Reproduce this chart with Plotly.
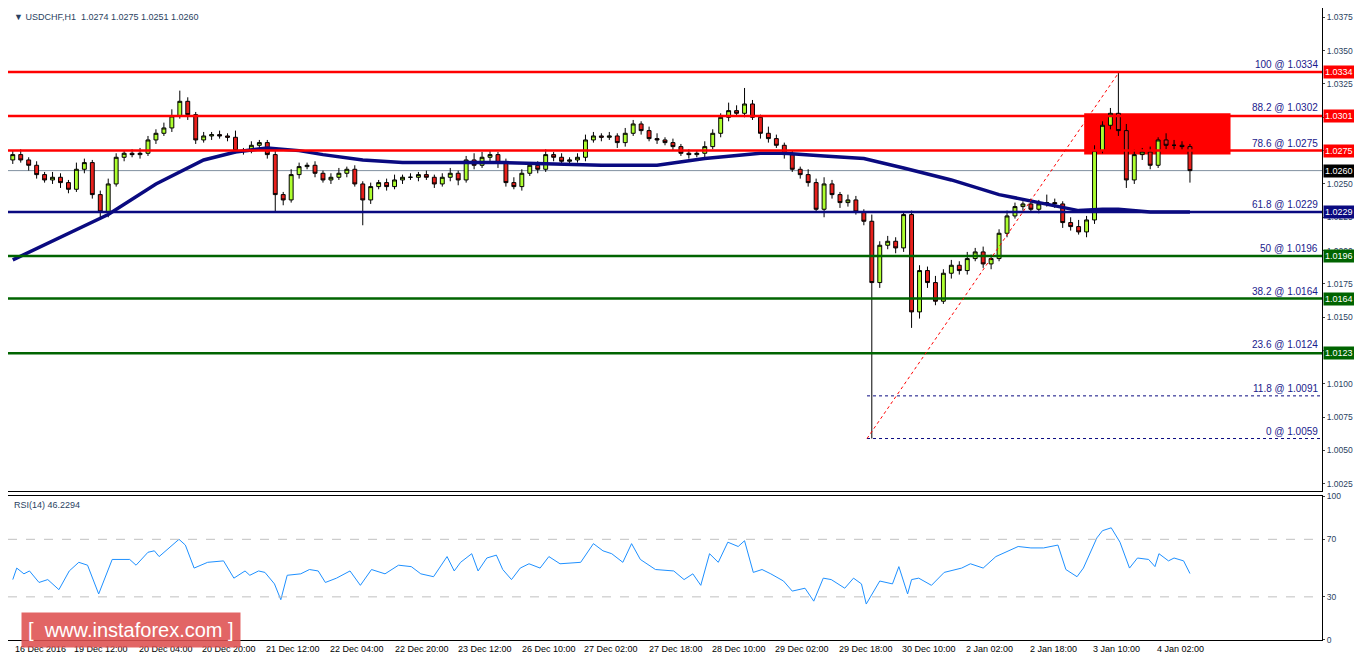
import plotly.graph_objects as go

# H2-ish candles (open = previous close)
closes = [1.0272, 1.0268, 1.0264, 1.0257, 1.0253, 1.0255, 1.0251, 1.0246, 1.0261, 1.0266,
          1.0242, 1.0229, 1.0250, 1.0270, 1.0273, 1.0272, 1.0273, 1.0283, 1.0288, 1.0292,
          1.0301, 1.0312, 1.0302, 1.0283, 1.0286, 1.0287, 1.0286, 1.0285, 1.0275, 1.0275,
          1.0279, 1.0281, 1.0272, 1.0242, 1.0238, 1.0257, 1.0263, 1.0264, 1.0258, 1.0253,
          1.0255, 1.0258, 1.0261, 1.0250, 1.0238, 1.0248, 1.0251, 1.0248, 1.0253, 1.0255,
          1.0255, 1.0257, 1.0255, 1.0250, 1.0255, 1.0258, 1.0253, 1.0268, 1.0264, 1.0270,
          1.0272, 1.0266, 1.0251, 1.0248, 1.0258, 1.0264, 1.0261, 1.0272, 1.0270, 1.0267,
          1.0268, 1.0270, 1.0283, 1.0286, 1.0285, 1.0286, 1.0281, 1.0288, 1.0295, 1.0290,
          1.0284, 1.0283, 1.0281, 1.0278, 1.0273, 1.0272, 1.0273, 1.0278, 1.0288, 1.0300,
          1.0305, 1.0303, 1.0310, 1.0300, 1.0288, 1.0284, 1.0279, 1.0272, 1.0261, 1.0257,
          1.0251, 1.0231, 1.0250, 1.0242, 1.0236, 1.0238, 1.0229, 1.0222, 1.0176, 1.0204,
          1.0207, 1.0202, 1.0227, 1.0154, 1.0185, 1.0176, 1.0162, 1.0183, 1.0189, 1.0185,
          1.0194, 1.0199, 1.0190, 1.0194, 1.0213, 1.0226, 1.0233, 1.0235, 1.0231, 1.0235,
          1.0236, 1.0235, 1.0221, 1.0218, 1.0214, 1.0223, 1.0275, 1.0294, 1.0303, 1.0290,
          1.0253, 1.0272, 1.0274, 1.0264, 1.0283, 1.0279, 1.0279, 1.0278, 1.0260]
first_open = 1.0268
# wick lengths in pips
wick_up = [3, 4, 2, 3, 2, 4, 3, 2, 5, 3,
           2, 3, 4, 3, 2, 3, 4, 3, 3, 4,
           5, 8, 3, 2, 3, 2, 3, 2, 5, 2,
           3, 2, 2, 3, 2, 4, 3, 2, 3, 2,
           3, 4, 2, 3, 2, 3, 2, 3, 4, 2,
           3, 2, 3, 2, 3, 4, 2, 3, 5, 4,
           3, 2, 3, 4, 3, 2, 3, 4, 2, 3,
           2, 3, 4, 3, 2, 3, 2, 4, 3, 2,
           3, 4, 2, 3, 2, 3, 2, 4, 3, 3,
           6, 4, 12, 3, 2, 5, 3, 2, 3, 2,
           4, 3, 5, 3, 2, 4, 3, 2, 5, 3,
           4, 3, 2, 3, 4, 3, 5, 3, 4, 3,
           5, 3, 4, 3, 3, 4, 3, 2, 4, 3,
           6, 3, 2, 4, 5, 3, 4, 3, 4, 31,
           5, 4, 3, 4, 2, 5, 4, 3, 2]
wick_dn = [3, 2, 4, 3, 2, 3, 4, 3, 2, 3,
           3, 6, 4, 2, 3, 2, 3, 2, 3, 2,
           3, 2, 4, 3, 2, 3, 2, 3, 2, 3,
           2, 3, 3, 13, 4, 2, 3, 2, 3, 2,
           3, 2, 3, 2, 19, 3, 2, 3, 2, 3,
           2, 3, 2, 3, 2, 3, 4, 2, 3, 2,
           3, 4, 3, 2, 3, 2, 3, 2, 3, 2,
           3, 2, 3, 2, 3, 2, 4, 3, 2, 3,
           2, 3, 2, 3, 2, 3, 2, 3, 2, 3,
           3, 2, 3, 2, 4, 3, 2, 3, 2, 3,
           3, 2, 6, 3, 4, 3, 2, 3, 117, 4,
           3, 4, 3, 12, 5, 4, 3, 2, 4, 3,
           3, 2, 3, 4, 2, 3, 2, 3, 2, 3,
           2, 3, 4, 3, 2, 4, 3, 2, 3, 4,
           6, 3, 4, 3, 2, 3, 4, 3, 9]

ma_pos = [0, 12, 18, 24, 28, 32, 36, 39, 44, 49, 62, 69, 74, 81, 87, 94, 97, 102, 107,
          112, 118, 124, 129, 134, 137, 139, 143, 148]
ma_val = [1.0193, 1.0227, 1.0250, 1.0268, 1.0274, 1.0277, 1.0275, 1.0272, 1.0268, 1.0266,
          1.0266, 1.0265, 1.0264, 1.0264, 1.0269, 1.0273, 1.0273, 1.0271, 1.0269,
          1.0262, 1.0253, 1.0242, 1.0236, 1.0230, 1.0231, 1.0231, 1.0229, 1.0229]

rsi_pos = [0, 0.5, 1.4, 2.1, 3.3, 4.4, 5.8, 7.1, 8.3, 9.4, 10.8, 12.5, 14.7, 15.5, 17, 17.8,
           18.4, 19.5, 20.9, 21.7, 22.8, 24.5, 26.5, 27.8, 29.2, 29.8, 30.9, 31.7, 32.9, 33.7,
           34.5, 36.2, 37.3, 38.4, 39.3, 40.7, 42.4, 43.7, 45.1, 46.8, 48.5, 50.1, 51.3, 52.9,
           54.6, 55.5, 56.3, 57.7, 58.5, 59.6, 60.8, 61.6, 62.7, 63.8, 64.9, 66.3, 67.4, 68.8,
           71.4, 73, 74.2, 75.3, 76.7, 77.8, 78.9, 80.8, 83.1, 84.4, 85.5, 86.5, 87.6, 88.7,
           89.9, 91.2, 92, 93.1, 94.2, 95.3, 96.9, 98, 99.6, 100.7, 101.9, 102.9, 104.6, 105.7,
           106.7, 107.3, 109, 110.6, 111.4, 112.5, 113, 113.9, 115.5, 117.1, 119.3, 120.4, 122,
           123.6, 125.3, 126.4, 128, 129.6, 131.4, 132.4, 133.8, 134.6, 136.3, 137, 138.1,
           139.2, 140.4, 141.4, 142.8, 143.6, 144.1, 145.3, 146, 147.2, 148]
rsi_val = [42, 50, 46, 48, 40, 42, 35, 48, 54, 52, 32, 56, 56, 52, 61, 62,
           58, 63, 70, 66, 50, 54, 55, 43, 48, 45, 48, 47, 39, 28,
           45, 46, 49, 48, 40, 43, 48, 38, 49, 46, 52, 51, 46, 44,
           58, 48, 54, 60, 48, 57, 59, 49, 42, 50, 53, 50, 58, 53,
           54, 67, 62, 60, 54, 67, 56, 49, 48, 42, 46, 38, 60, 54,
           68, 65, 69, 47, 49, 46, 41, 34, 36, 27, 43, 42, 36, 43,
           39, 25, 41, 39, 51, 32, 42, 43, 38, 47, 50, 53, 50,
           58, 62, 65, 64, 64, 66, 49, 44, 50, 71, 76, 78,
           68, 50, 57, 56, 51, 60, 55, 57, 55, 46.2]

red_levels = [1.0334, 1.0301, 1.0275]
navy_levels = [1.0229]
green_levels = [1.0196, 1.0164, 1.0123]
last_price = 1.0260
fib_text = ["100 @ 1.0334", "88.2 @ 1.0302", "78.6 @ 1.0275", "61.8 @ 1.0229",
            "50 @ 1.0196", "38.2 @ 1.0164", "23.6 @ 1.0124", "11.8 @ 1.0091", "0 @ 1.0059"]
fib_price = [1.0334, 1.0302, 1.0275, 1.0229, 1.0196, 1.0164, 1.0124, 1.0091, 1.0059]
fib_start, fib_end = 107.4, 139.1
box_x = [134.7, 153.1]
box_y = [1.0272, 1.0303]

tick_pos = [0, 7.5, 15.6, 23.5, 31.6, 39.6, 47.75, 55.75, 63.75, 71.6, 79.75, 87.6, 95.6,
            103.6, 111.6, 119.6, 127.6, 135.6, 143.6]
tick_text = ["16 Dec 2016", "19 Dec 12:00", "20 Dec 04:00", "20 Dec 20:00", "21 Dec 12:00",
             "22 Dec 04:00", "22 Dec 20:00", "23 Dec 12:00", "26 Dec 10:00", "27 Dec 02:00",
             "27 Dec 18:00", "28 Dec 10:00", "29 Dec 02:00", "29 Dec 18:00", "30 Dec 10:00",
             "2 Jan 02:00", "2 Jan 18:00", "3 Jan 10:00", "4 Jan 02:00"]
price_ticks = [1.0025 + 0.0025 * k for k in range(15)]

opens = [first_open] + closes[:-1]
highs = [max(o, c) + u * 0.0001 for o, c, u in zip(opens, closes, wick_up)]
lows = [min(o, c) - d * 0.0001 for o, c, d in zip(opens, closes, wick_dn)]
idx = list(range(len(closes)))

FONT = "Liberation Sans"
fig = go.Figure()
fig.add_trace(go.Scatter(x=ma_pos, y=ma_val, mode="lines", line=dict(color="#0a0a80", width=3.5),
                         xaxis="x", yaxis="y", hoverinfo="skip"))
fig.add_trace(go.Candlestick(x=idx, open=opens, high=highs, low=lows, close=closes,
                             increasing=dict(fillcolor="#adff2f", line=dict(color="black", width=1)),
                             decreasing=dict(fillcolor="#e8201c", line=dict(color="black", width=1)),
                             whiskerwidth=0, xaxis="x", yaxis="y"))
fig.add_trace(go.Scatter(x=rsi_pos, y=rsi_val, mode="lines", line=dict(color="#1e90ff", width=1),
                         xaxis="x2", yaxis="y2"))

shapes = []
shapes.append(dict(type="rect", xref="x", yref="y", x0=box_x[0], x1=box_x[1], y0=box_y[0], y1=box_y[1],
                   fillcolor="#ff0000", line=dict(width=0), layer="below"))
shapes.append(dict(type="line", xref="paper", yref="y", x0=0, x1=1, y0=last_price, y1=last_price,
                   line=dict(color="#8090a0", width=1), layer="below"))
for lv in red_levels:
    shapes.append(dict(type="line", xref="paper", yref="y", x0=0, x1=1, y0=lv, y1=lv,
                       line=dict(color="#ff0000", width=2.5)))
for lv in navy_levels:
    shapes.append(dict(type="line", xref="paper", yref="y", x0=0, x1=1, y0=lv, y1=lv,
                       line=dict(color="#0a0a80", width=2.5)))
for lv in green_levels:
    shapes.append(dict(type="line", xref="paper", yref="y", x0=0, x1=1, y0=lv, y1=lv,
                       line=dict(color="#006400", width=2.5)))
for lv in fib_price[7:]:
    shapes.append(dict(type="line", xref="x", yref="y", x0=fib_start, x1=164.6, y0=lv, y1=lv,
                       line=dict(color="#0a0a80", width=1, dash="dot")))
shapes.append(dict(type="line", xref="x", yref="y", x0=fib_start, x1=fib_end, y0=fib_price[-1], y1=fib_price[0],
                   line=dict(color="#ff0000", width=1, dash="dot")))
for lv in [70, 30]:
    shapes.append(dict(type="line", xref="paper", yref="y2", x0=0, x1=1, y0=lv, y1=lv,
                       line=dict(color="#c0c0c0", width=1, dash="dash")))

ann = []
for t, p in zip(fib_text, fib_price):
    ann.append(dict(x=1, xref="paper", y=p, yref="y", text=t, showarrow=False, xanchor="right",
                    yanchor="bottom", xshift=-2, font=dict(family=FONT, size=10, color="#1a1a8c")))
boxes = [(lv, "#ff0000") for lv in red_levels] + [(last_price, "black")] + \
        [(lv, "#0a0a80") for lv in navy_levels] + [(lv, "#006400") for lv in green_levels]
for lv, col in boxes:
    ann.append(dict(x=1, xref="paper", y=lv, yref="y", text="%.4f" % lv, showarrow=False, xanchor="left",
                    bgcolor=col, borderpad=1, xshift=1, font=dict(family=FONT, size=9, color="white")))
for pos, t in zip(tick_pos, tick_text):
    ann.append(dict(x=pos, xref="x2", y=0, yref="paper", text=t, showarrow=False, xanchor="left",
                    yanchor="top", yshift=-2, font=dict(family=FONT, size=9, color="black")))
ann.append(dict(x=0.003, xref="paper", y=1, yref="paper", text="▼ USDCHF,H1  1.0274 1.0275 1.0251 1.0260",
                showarrow=False, xanchor="left", yanchor="top", yshift=-2, font=dict(family=FONT, size=9)))
ann.append(dict(x=0.003, xref="paper", y=0.2276, yref="paper", text="RSI(14) 46.2294",
                showarrow=False, xanchor="left", yanchor="top", yshift=-2, font=dict(family=FONT, size=9)))
ann.append(dict(x=0.01, xref="paper", y=-0.012, yref="paper", text="[  www.instaforex.com ]",
                showarrow=False, xanchor="left", yanchor="bottom", bgcolor="rgba(222,80,80,0.88)",
                borderpad=6, font=dict(family=FONT, size=20, color="white")))

axis_common = dict(showline=True, linecolor="black", linewidth=1, mirror=True, showgrid=False,
                   zeroline=False, automargin=False)
fig.update_layout(
    width=1354, height=653, margin=dict(l=0, r=40, t=0, b=21, autoexpand=False),
    paper_bgcolor="white", plot_bgcolor="white", showlegend=False,
    shapes=shapes, annotations=ann,
    xaxis=dict(domain=[0, 1], range=[-0.6, 164.6], showticklabels=False, rangeslider=dict(visible=False),
               anchor="y", **axis_common),
    yaxis=dict(domain=[0.2355, 1], range=[1.00195, 1.03775 + 0.00045], side="right", tickvals=price_ticks,
               tickformat=".4f", ticks="outside", ticklen=2, tickfont=dict(family=FONT, size=8.5),
               anchor="x", **axis_common),
    xaxis2=dict(domain=[0, 1], range=[-0.6, 164.6], showticklabels=False, anchor="y2", **axis_common),
    yaxis2=dict(domain=[0, 0.2276], range=[0, 100], side="right", tickvals=[0, 30, 70, 100],
                ticks="outside", ticklen=2, tickfont=dict(family=FONT, size=8.5), anchor="x2", **axis_common),
)
fig.write_html("out.html")
